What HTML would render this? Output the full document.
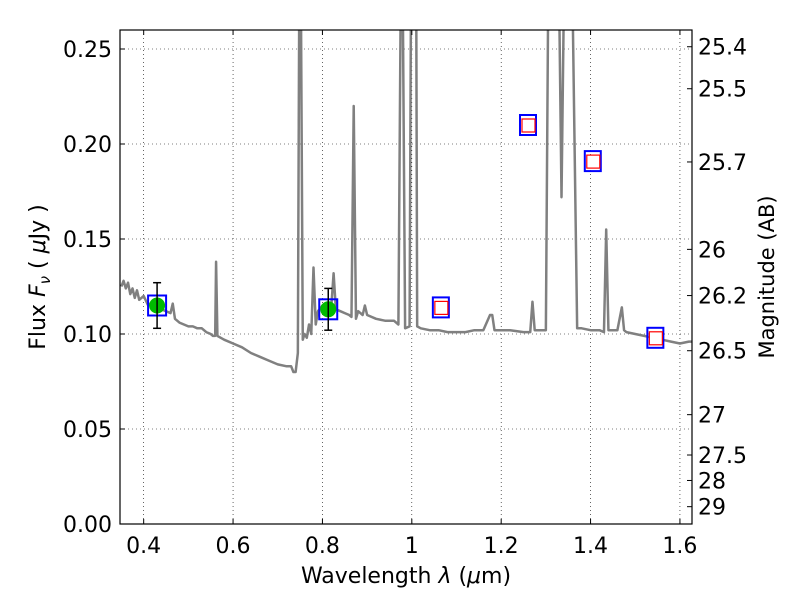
<!DOCTYPE html>
<html><head><meta charset="utf-8"><style>
body{margin:0;background:#fff}
svg text{font-family:"DejaVu Sans","Liberation Sans",sans-serif;fill:#000}
</style></head><body>
<svg id="chart" width="800" height="600" xmlns="http://www.w3.org/2000/svg">
<rect width="800" height="600" fill="#fff"/>
<g id="grid"></g>
<g id="spec"></g>
<g id="pts"></g>
<rect x="120" y="30" width="572" height="494" fill="none" stroke="#000" stroke-width="1.2"/>
<g id="axes"></g>
<text x="406" y="583" font-size="22" text-anchor="middle">Wavelength  <tspan font-style="italic">λ</tspan> (<tspan font-style="italic">μ</tspan>m)</text>
<text transform="translate(45,277) rotate(-90)" font-size="22" text-anchor="middle">Flux  <tspan font-style="italic">F<tspan font-size="15" dy="5">ν</tspan></tspan><tspan dy="-5">  ( </tspan><tspan font-style="italic">μ</tspan>Jy )</text>
<text transform="translate(774,277) rotate(-90)" font-size="21" text-anchor="middle">Magnitude (AB)</text>
</svg>
<script>
const xTicks=[0.4,0.6,0.8,1.0,1.2,1.4,1.6];
const xTickLabels=["0.4","0.6","0.8","1","1.2","1.4","1.6"];
const yTicks=[0,0.05,0.10,0.15,0.20,0.25];
const yTickLabels=["0.00","0.05","0.10","0.15","0.20","0.25"];
const magTicks=[25.4,25.5,25.7,26,26.2,26.5,27,27.5,28,29];
const specWave=[0.35,0.355,0.36,0.365,0.37,0.375,0.38,0.385,0.39,0.40,0.41,0.42,0.43,0.44,0.45,0.46,0.465,0.47,0.48,0.49,0.50,0.51,0.52,0.53,0.54,0.55,0.555,0.56,0.562,0.565,0.58,0.6,0.62,0.64,0.66,0.68,0.70,0.72,0.73,0.735,0.74,0.745,0.748,0.752,0.756,0.76,0.765,0.77,0.775,0.78,0.785,0.79,0.80,0.81,0.82,0.825,0.83,0.84,0.85,0.86,0.865,0.87,0.875,0.88,0.89,0.895,0.90,0.92,0.94,0.96,0.97,0.975,0.98,0.985,0.995,0.998,1.01,1.012,1.02,1.04,1.06,1.08,1.10,1.12,1.14,1.16,1.175,1.18,1.185,1.20,1.22,1.25,1.265,1.27,1.275,1.29,1.30,1.305,1.33,1.335,1.34,1.36,1.37,1.38,1.40,1.42,1.43,1.435,1.44,1.46,1.47,1.475,1.48,1.50,1.52,1.54,1.56,1.58,1.60,1.62,1.63];
const specFlux=[0.125,0.128,0.124,0.127,0.121,0.124,0.119,0.123,0.118,0.120,0.115,0.117,0.114,0.113,0.112,0.111,0.116,0.108,0.106,0.105,0.104,0.104,0.103,0.103,0.101,0.100,0.099,0.099,0.138,0.099,0.097,0.095,0.093,0.090,0.088,0.086,0.084,0.083,0.083,0.080,0.080,0.090,0.27,0.27,0.097,0.100,0.098,0.105,0.100,0.135,0.105,0.112,0.115,0.116,0.115,0.132,0.113,0.112,0.111,0.110,0.109,0.22,0.108,0.112,0.110,0.115,0.110,0.108,0.107,0.107,0.105,0.27,0.27,0.103,0.104,0.27,0.27,0.104,0.103,0.102,0.102,0.101,0.101,0.101,0.102,0.102,0.110,0.110,0.102,0.102,0.102,0.101,0.101,0.117,0.102,0.102,0.102,0.27,0.27,0.172,0.27,0.27,0.103,0.103,0.102,0.102,0.101,0.155,0.102,0.102,0.114,0.102,0.101,0.100,0.099,0.098,0.097,0.096,0.095,0.096,0.096];
const detWave=[0.43,0.813];
const detFlux=[0.115,0.113];
const detErr=[0.012,0.011];
const limWave=[1.065,1.26,1.405,1.545];
const limFlux=[0.114,0.210,0.191,0.098];
const X0=120,X1=692,Y0=524,Y1=30,XMIN=0.347,XMAX=1.627,YMIN=0,YMAX=0.26;
const sx=v=>X0+(v-XMIN)/(XMAX-XMIN)*(X1-X0);
const sy=v=>Y0-(v-YMIN)/(YMAX-YMIN)*(Y0-Y1);
const NS="http://www.w3.org/2000/svg";
function mk(tag,attrs,parent){const e=document.createElementNS(NS,tag);for(const k in attrs)e.setAttribute(k,attrs[k]);parent.appendChild(e);return e;}
const grid=document.getElementById('grid'),axes=document.getElementById('axes');
xTicks.forEach((t,i)=>{const x=sx(t);
 let g=mk('line',{x1:x,x2:x,y1:Y1,y2:Y0,stroke:'#000','stroke-width':0.6,'stroke-dasharray':'1,3'},grid);
 
 mk('line',{x1:x,x2:x,y1:Y0,y2:Y0-5,stroke:'#000'},axes);mk('line',{x1:x,x2:x,y1:Y1,y2:Y1+5,stroke:'#000'},axes);
 let tx=mk('text',{x:x,y:Y0+29,'font-size':22,'text-anchor':'middle'},axes);tx.textContent=xTickLabels[i];
 });
yTicks.forEach((t,i)=>{const y=sy(t);
 let g=mk('line',{x1:X0,x2:X1,y1:y,y2:y,stroke:'#000','stroke-width':0.6,'stroke-dasharray':'1,3'},grid);
 
 mk('line',{x1:X0,x2:X0+5,y1:y,y2:y,stroke:'#000'},axes);
 let tx=mk('text',{x:X0-8,y:y+8,'font-size':22,'text-anchor':'end'},axes);tx.textContent=yTickLabels[i];
 });
magTicks.forEach(m=>{const f=Math.pow(10,(23.9-m)/2.5);const y=sy(f);
 mk('line',{x1:X1-5,x2:X1,y1:y,y2:y,stroke:'#000'},axes);
 let tx=mk('text',{x:X1+6,y:y+8,'font-size':22},axes);tx.textContent=String(m);
 });
const spec=document.getElementById('spec');
const cp=mk('clipPath',{id:'clp'},spec);
mk('rect',{x:X0,y:Y1,width:X1-X0,height:Y0-Y1},cp);
let pl=mk('polyline',{points:specWave.map((w,i)=>sx(w)+','+sy(specFlux[i])).join(' '),fill:'none',stroke:'#808080','stroke-width':2.5,'stroke-linejoin':'round','clip-path':'url(#clp)'},spec);

const pts=document.getElementById('pts');
detWave.forEach((w,i)=>{const x=sx(w),y=sy(detFlux[i]);
 let g=mk('g',{},pts);
 mk('rect',{x:x-9,y:y-10,width:18,height:20,fill:'none',stroke:'#0000ff','stroke-width':2},g);
 mk('circle',{cx:x,cy:y,r:8,fill:'#00bb00'},g);
 const ya=sy(detFlux[i]+detErr[i]),yb=sy(detFlux[i]-detErr[i]);
 mk('line',{x1:x,x2:x,y1:ya,y2:yb,stroke:'#000','stroke-width':1.5},g);
 mk('line',{x1:x-4,x2:x+4,y1:ya,y2:ya,stroke:'#000','stroke-width':1.5},g);
 mk('line',{x1:x-4,x2:x+4,y1:yb,y2:yb,stroke:'#000','stroke-width':1.5},g);});
limWave.forEach((w,i)=>{const x=sx(w),y=sy(limFlux[i]);
 let g=mk('g',{},pts);
 mk('rect',{x:x-8,y:y-10,width:16,height:20,fill:'none',stroke:'#0000ff','stroke-width':2},g);
 mk('rect',{x:x-6,y:y-6,width:13,height:13,fill:'#fff',stroke:'#ff0000','stroke-width':1.2},g);});
</script>
</body></html>
